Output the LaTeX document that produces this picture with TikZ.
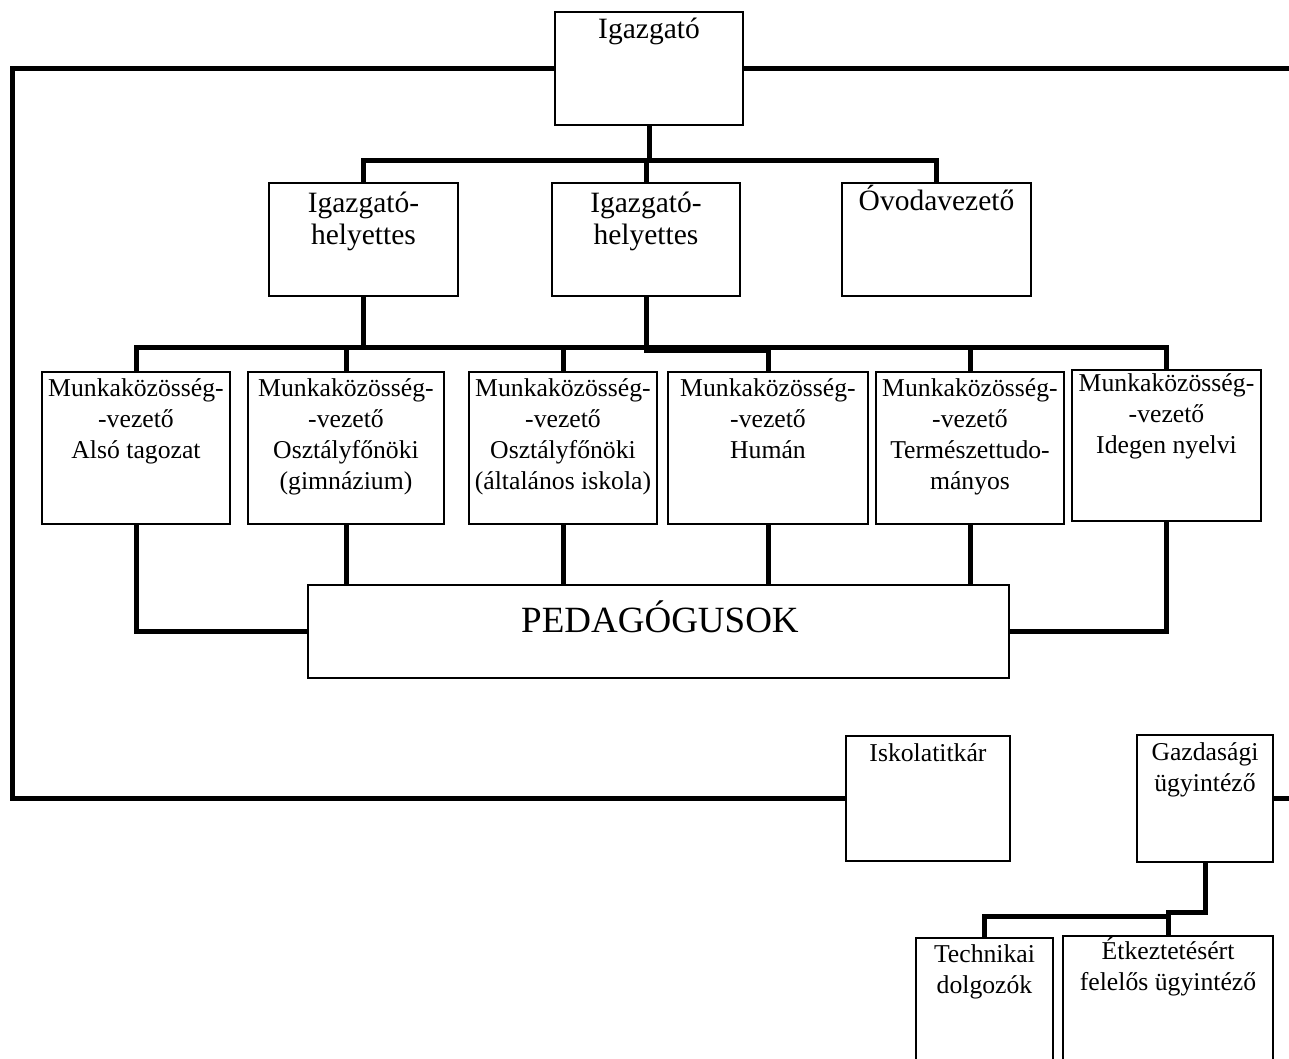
\documentclass[tikz,border=0pt]{standalone}
\usepackage{fontspec}
\setmainfont{Liberation Serif}
\tikzset{
  box/.style={draw, line width=1.3pt, fill=white, inner sep=0pt},
  conn/.style={line width=5pt, line join=miter},
  txt/.style={font=\fontsize{25.7}{31}\selectfont, align=center, inner sep=0pt, anchor=base},
  toptxt/.style={font=\fontsize{29.5}{32}\selectfont, align=center, inner sep=0pt, anchor=base},
  bigtxt/.style={font=\fontsize{37}{42}\selectfont, inner sep=0pt, anchor=base}
}
\begin{document}
\begin{tikzpicture}[x=1pt,y=-1pt]
\useasboundingbox (0,0) rectangle (1289,1058);
\clip (0,0) rectangle (1289,1058);
% levels
\coordinate (busA) at (0,160);
\coordinate (busB) at (0,347);
\coordinate (busB2) at (0,350);
\coordinate (busG) at (0,912);
\coordinate (busG2) at (0,916);
\coordinate (cTL) at (12,68.5);
\coordinate (cBL) at (12,798.5);
\coordinate (rTop) at (1300,68.5);
\coordinate (rBot) at (1300,798.5);

% boxes
\node[box, minimum width=188pt, minimum height=113pt] (igaz) at (649,68.5) {};
\node[box, minimum width=189pt, minimum height=113pt] (ih1) at (363.5,239.5) {};
\node[box, minimum width=188pt, minimum height=113pt] (ih2) at (646,239.5) {};
\node[box, minimum width=189pt, minimum height=113pt] (ovoda) at (936.5,239.5) {};
\node[box, minimum width=188pt, minimum height=152pt] (mv1) at (136,448) {};
\node[box, minimum width=196pt, minimum height=152pt] (mv2) at (346,448) {};
\node[box, minimum width=188pt, minimum height=152pt] (mv3) at (563,448) {};
\node[box, minimum width=200pt, minimum height=152pt] (mv4) at (768,448) {};
\node[box, minimum width=188pt, minimum height=152pt] (mv5) at (970,448) {};
\node[box, minimum width=189pt, minimum height=151pt] (mv6) at (1166.5,445.5) {};
\node[box, minimum width=701pt, minimum height=93pt] (ped) at (658.5,631.5) {};
\node[box, minimum width=164pt, minimum height=125pt] (iskola) at (928,798.5) {};
\node[box, minimum width=136pt, minimum height=127pt] (gazd) at (1205,798.5) {};
\node[box, minimum width=137pt, minimum height=134pt] (tech) at (984.5,1005) {};
\node[box, minimum width=210pt, minimum height=136pt] (etk) at (1168,1004) {};

% texts (anchor = baseline of the last line)
\node[toptxt] (igazT) at ([yshift=-27pt]igaz.north) {Igazgató};
\node[toptxt] (ih1T) at ([yshift=-62pt]ih1.north) {Igazgató-\\helyettes};
\node[toptxt] (ih2T) at ([yshift=-62pt]ih2.north) {Igazgató-\\helyettes};
\node[toptxt] (ovodaT) at ([yshift=-28pt]ovoda.north) {Óvodavezető};
\node[txt] (mv1T) at ([yshift=-87pt]mv1.north) {Munkaközösség-\\-vezető\\Alsó tagozat};
\node[txt] (mv2T) at ([yshift=-118pt]mv2.north) {Munkaközösség-\\-vezető\\Osztályfőnöki\\(gimnázium)};
\node[txt] (mv3T) at ([yshift=-118pt]mv3.north) {Munkaközösség-\\-vezető\\Osztályfőnöki\\(általános iskola)};
\node[txt] (mv4T) at ([yshift=-87pt]mv4.north) {Munkaközösség-\\-vezető\\Humán};
\node[txt] (mv5T) at ([yshift=-118pt]mv5.north) {Munkaközösség-\\-vezető\\Természettudo-\\mányos};
\node[txt] (mv6T) at ([yshift=-84pt]mv6.north) {Munkaközösség-\\-vezető\\Idegen nyelvi};
\node[bigtxt] (pedT) at ([yshift=-48pt,xshift=1.5pt]ped.north) {PEDAGÓGUSOK};
\node[txt] (iskolaT) at ([yshift=-26pt]iskola.north) {Iskolatitkár};
\node[txt] (gazdT) at ([yshift=-57pt]gazd.north) {Gazdasági\\ügyintéző};
\node[txt] (techT) at ([yshift=-56pt]tech.north) {Technikai\\dolgozók};
\node[txt] (etkT) at ([yshift=-55pt]etk.north) {Étkeztetésért\\felelős ügyintéző};

% connectors
\draw[conn] (igaz.south) -- (igaz.south |- busA);
\draw[conn] (ih1.north) -- (ih1.north |- busA) -- (ovoda.north |- busA) -- (ovoda.north);
\draw[conn] (ih2.north) -- (ih2.north |- busA);
\draw[conn] (ih1.south) -- (ih1.south |- busB);
\draw[conn] (mv1.north) -- (mv1.north |- busB) -- (mv6.north |- busB) -- (mv6.north);
\draw[conn] (mv2.north) -- (mv2.north |- busB);
\draw[conn] (mv3.north) -- (mv3.north |- busB);
\draw[conn] (mv5.north) -- (mv5.north |- busB);
\draw[conn] (ih2.south) -- (ih2.south |- busB2) -| (mv4.north);
\draw[conn] (mv1.south) |- (ped.west);
\draw[conn] (mv2.south) -- (mv2.south |- ped.north);
\draw[conn] (mv3.south) -- (mv3.south |- ped.north);
\draw[conn] (mv4.south) -- (mv4.south |- ped.north);
\draw[conn] (mv5.south) -- (mv5.south |- ped.north);
\draw[conn] (mv6.south) |- (ped.east);
\draw[conn] (igaz.west) -- (cTL) -- (cBL) -- (iskola.west);
\draw[conn] (igaz.east) -- (rTop);
\draw[conn] (gazd.east) -- (rBot);
\draw[conn] (gazd.south) -- (gazd.south |- busG) -| (etk.north);
\draw[conn] (tech.north) -- (tech.north |- busG2) -- (etk.north |- busG2);
\end{tikzpicture}
\end{document}
